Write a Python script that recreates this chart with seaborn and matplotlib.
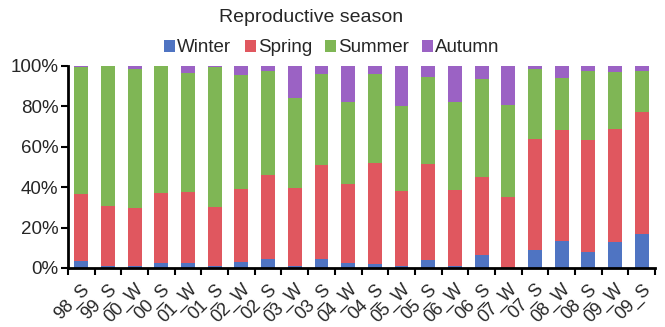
import matplotlib
matplotlib.use("Agg")
import matplotlib.pyplot as plt
from matplotlib.patches import Patch
import seaborn as sns
import numpy as np
import pandas as pd

categories = ["98_S", "99_S", "00_W", "00_S", "01_W", "01_S", "02_W", "02_S",
              "03_W", "03_S", "04_W", "04_S", "05_W", "05_S", "06_W", "06_S",
              "07_W", "07_S", "08_W", "08_S", "09_W", "09_S"]
winter = [3.3, 1.0, 1.0, 2.5, 2.3, 1.0, 3.0, 4.6, 1.0, 4.6, 2.3, 2.0,
          0.8, 4.1, 0.8, 6.6, 0.0, 8.9, 13.5, 8.0, 13.0, 16.8]
spring = [33.4, 29.5, 28.5, 34.5, 35.3, 29.1, 36.2, 41.4, 38.4, 46.6, 39.2, 50.2,
          37.2, 47.3, 37.9, 38.5, 35.3, 54.9, 54.7, 55.4, 55.7, 60.2]
summer = [63.0, 69.5, 69.0, 63.0, 59.1, 69.6, 56.2, 51.5, 44.6, 44.8, 40.9, 43.8,
          42.0, 43.3, 43.3, 48.3, 45.3, 34.7, 25.8, 34.1, 28.3, 20.5]
autumn = [0.3, 0.0, 1.5, 0.0, 3.3, 0.3, 4.6, 2.5, 16.0, 4.0, 17.6, 4.0,
          20.0, 5.3, 18.0, 6.6, 19.4, 1.5, 6.0, 2.5, 3.0, 2.5]
series_names = ["Winter", "Spring", "Summer", "Autumn"]
colors = ["#4f74c2", "#e0575f", "#7fb655", "#9b62c4"]

sns.set_style("ticks")
plt.rcParams["font.family"] = ["Liberation Sans", "DejaVu Sans"]

df = pd.DataFrame({"cat": categories, "Winter": winter, "Spring": spring,
                   "Summer": summer, "Autumn": autumn})
vals = df[series_names].to_numpy()
tot = vals.sum(axis=1, keepdims=True)
pct = vals / tot * 100
cum = np.cumsum(pct, axis=1)

fig = plt.figure(figsize=(6.65, 3.27), dpi=100)
ax = fig.add_axes([68/665, 1-268/327, (655-68)/665, (268-66)/327])

# draw cumulative from top down so lower layers overlay
for i in range(3, -1, -1):
    sns.barplot(x=df["cat"], y=cum[:, i], color=colors[i], width=0.52,
                saturation=1, ax=ax, edgecolor="none", linewidth=0)

ax.set_ylim(0, 100)
ax.set_xlim(-0.5, len(categories) - 0.5)
ax.set_yticks([0, 20, 40, 60, 80, 100])
ax.set_yticklabels(["0%", "20%", "40%", "60%", "80%", "100%"], fontsize=13.5)
ax.set_xticks(range(len(categories)))
ax.set_xticklabels(categories, rotation=45, ha="right", rotation_mode="anchor",
                   fontsize=13)
ax.tick_params(axis="x", length=0, pad=9)
ax.set_xticks(np.arange(-0.5, len(categories), 1.0), minor=True)
ax.tick_params(axis="x", which="minor", length=5, width=1.5, color="black")
ax.tick_params(axis="y", length=5, width=1.5, color="black", pad=2)
ax.set_xlabel("")
ax.set_ylabel("")
for s in ["top", "right"]:
    ax.spines[s].set_visible(False)
for s in ["left", "bottom"]:
    ax.spines[s].set_linewidth(2)
    ax.spines[s].set_color("black")

fig.text(311/665, 1-17/327, "Reproductive season", ha="center", va="center",
         fontsize=14)
handles = [Patch(facecolor=c, edgecolor="none") for c in colors]
fig.legend(handles, series_names, loc="center", bbox_to_anchor=(332/665, 1-48/327),
           ncol=4, frameon=False, fontsize=13.5, handlelength=0.6, handleheight=0.6,
           handletextpad=0.1, columnspacing=0.7, borderpad=0)

fig.savefig("out.png", dpi=100)
